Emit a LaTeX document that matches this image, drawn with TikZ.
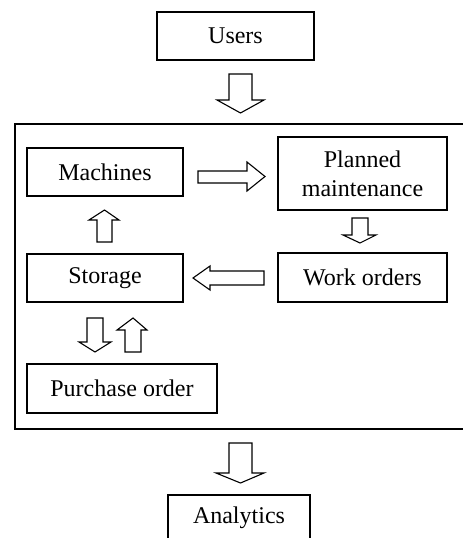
\documentclass[tikz,border=0pt]{standalone}
\usepackage{fontspec}
\setmainfont{Liberation Serif}
\begin{document}
\begin{tikzpicture}[x=1pt,y=-1pt,
  box/.style={draw, line width=1.6pt, fill=white, inner sep=0pt, align=center,
    font=\fontsize{24}{29}\selectfont},
  blockarrow/.style={draw, line width=1.1pt, fill=white, line join=miter}]
\useasboundingbox (0,0) rectangle (463,538);
% outer frame
\node[draw, line width=1.6pt, minimum width=450pt, minimum height=305pt, inner sep=0pt] (panel) at (240,276.5) {};
% boxes
\node[box, minimum width=157pt, minimum height=48pt] (users) at (235.5,36) {Users};
\node[box, minimum width=156pt, minimum height=48pt] (machines) at (105,172) {Machines};
\node[box, minimum width=169pt, minimum height=73pt] (planned) at (362.5,173.5) {Planned\\maintenance};
\node[box, minimum width=156pt, minimum height=48pt] (storage) at (105,278) {Storage};
\node[box, minimum width=169pt, minimum height=49pt] (work) at (362.5,277.5) {Work orders};
\node[box, minimum width=190pt, minimum height=49pt] (purchase) at (122,388.5) {Purchase order};
\node[box, minimum width=142pt, minimum height=46pt] (analytics) at (239,518) {Analytics};
% block arrows
\draw[blockarrow] (229,74) -- (252,74) -- (252,100) -- (264,100) -- (240.5,113) -- (217,100) -- (229,100) -- cycle;
\draw[blockarrow] (198,171) -- (247,171) -- (247,162) -- (265,176.5) -- (247,191) -- (247,183) -- (198,183) -- cycle;
\draw[blockarrow] (352,218) -- (368,218) -- (368,235) -- (376,235) -- (360,243) -- (343,235) -- (352,235) -- cycle;
\draw[blockarrow] (264,271) -- (210,271) -- (210,266) -- (193,278) -- (210,290) -- (210,285) -- (264,285) -- cycle;
\draw[blockarrow] (97,242) -- (112,242) -- (112,220) -- (119,220) -- (104.5,210) -- (89,220) -- (97,220) -- cycle;
\draw[blockarrow] (87,318) -- (103,318) -- (103,342) -- (111,342) -- (95,352) -- (79,342) -- (87,342) -- cycle;
\draw[blockarrow] (125,352) -- (141,352) -- (141,330) -- (147,330) -- (133,318) -- (117,330) -- (125,330) -- cycle;
\draw[blockarrow] (229,443) -- (252,443) -- (252,473) -- (264,473) -- (240.5,483) -- (216,473) -- (229,473) -- cycle;
\end{tikzpicture}
\end{document}
